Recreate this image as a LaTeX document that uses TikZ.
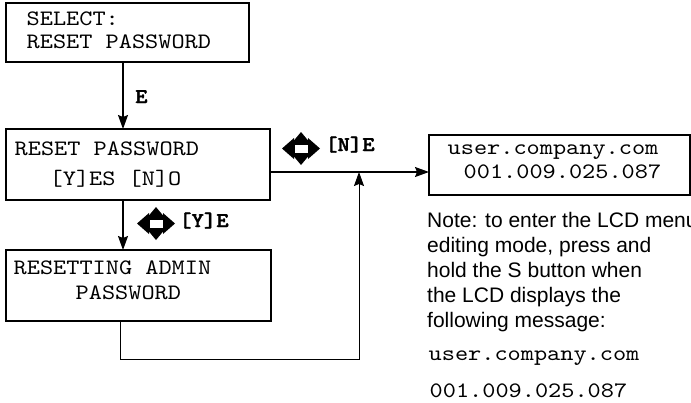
\documentclass[tikz,border=0pt]{standalone}
\usepackage{fontspec}
\setmainfont{Liberation Sans}
\newfontfamily\lcd{lmmono10-regular.otf}[FakeStretch=1.14]
\newfontfamily\lcdb{lmmonolt10-bold.otf}[FakeStretch=1.12, FakeBold=1.6]
\usetikzlibrary{arrows.meta}
\tikzset{
  keypad/.pic={
    \fill (-7,-10.5) -- (-19,0) -- (-7,10.5) -- cycle;
    \fill (7,-10.5) -- (19,0) -- (7,10.5) -- cycle;
    \fill (-10,-4.5) -- (0,-16.5) -- (10,-4.5) -- cycle;
    \fill (-10,4.5) -- (0,16.5) -- (10,4.5) -- cycle;
    \draw[fill=white, line width=1pt] (-7,-4.5) rectangle (7,4.5);
  }
}
\begin{document}
\begin{tikzpicture}[x=1pt,y=-1pt,
  box/.style={draw, line width=1.6pt, rectangle, inner sep=0pt, outer sep=0pt},
  conn/.style={line width=1.2pt, -{Stealth[length=14pt,width=10pt,inset=2pt]}},
  lcdtext/.style={font=\lcd\fontsize{22}{22}\selectfont, inner sep=0pt, anchor=base west},
  keytext/.style={font=\lcdb\fontsize{21}{21}\selectfont, inner sep=0pt, anchor=base west},
  notetext/.style={font=\fontsize{21}{25}\selectfont, inner sep=0pt, anchor=base west}]
\useasboundingbox (0,0) rectangle (691,402);
\clip (0,0) rectangle (691,402);

% boxes
\node[box, minimum width=243pt, minimum height=59pt] (b1) at (127.5,32.5) {};
\node[box, minimum width=264pt, minimum height=71pt] (b2) at (138,164.5) {};
\node[box, minimum width=265pt, minimum height=71pt] (b3) at (138.5,285.5) {};
\node[box, minimum width=261pt, minimum height=60pt] (b4) at (559.5,165) {};

% box texts
\node[lcdtext] (t1a) at (26.5,25) {SELECT:};
\node[lcdtext] (t1b) at (26.5,48) {RESET PASSWORD};
\node[lcdtext] (t2a) at (14.5,155) {RESET PASSWORD};
\node[lcdtext] (t2b) at (49.5,185) {[Y]ES [N]O};
\node[lcdtext] (t3a) at (13.5,274) {RESETTING ADMIN};
\node[lcdtext] (t3b) at (75.5,299) {PASSWORD};
\node[lcdtext] (t4a) at (447.5,154) {user.company.com};
\node[lcdtext] (t4b) at (463.5,178) {001.009.025.087};

% connectors
\coordinate (xa) at (123,0);
\coordinate (ya) at (0,172);
\coordinate (lc1) at (120,359);
\coordinate (lc2) at (359,359);
\coordinate (lj) at (359,172);
\draw[conn] (b1.south -| xa) -- (b2.north -| xa);
\draw[conn] (b2.south -| xa) -- (b3.north -| xa);
\draw[conn] (b2.east |- ya) -- (b4.west |- ya);
\draw[conn, line width=1pt] (b3.south -| lc1) -- (lc1) -- (lc2) -- (lj);

% key labels
\node[keytext] (kE) at (135,103) {E};
\pic at (301,148.5) {keypad};
\node[keytext] (kN) at (325,151) {[N]E};
\pic at (156,223.5) {keypad};
\node[keytext] (kY) at (179,227) {[Y]E};

% note
\node[notetext] (n1) at (427,227) {Note: to enter the LCD menu};
\node[notetext] (n2) at (427,252) {editing mode, press and};
\node[notetext] (n3) at (427,277) {hold the S button when};
\node[notetext] (n4) at (427,302) {the LCD displays the};
\node[notetext] (n5) at (427,327) {following message:};
\node[lcdtext] (m1) at (428.5,360) {user.company.com};
\node[lcdtext] (m2) at (429.5,397) {001.009.025.087};
\end{tikzpicture}
\end{document}
